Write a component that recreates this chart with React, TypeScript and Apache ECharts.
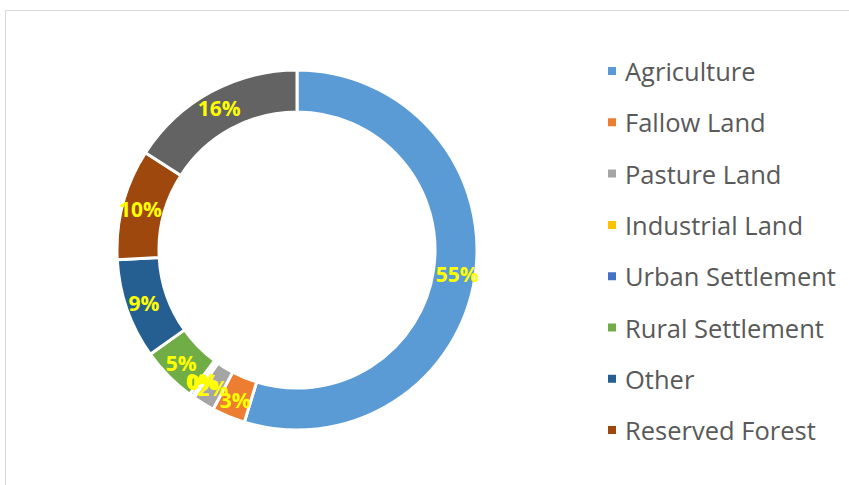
import React, { useEffect, useRef } from "react";
import * as echarts from "echarts";

const categories = [
  "Agriculture",
  "Fallow Land",
  "Pasture Land",
  "Industrial Land",
  "Urban Settlement",
  "Rural Settlement",
  "Other",
  "Reserved Forest",
  "Water Bodies",
];
const values = [55, 3, 2, 0.2, 0.3, 5, 9, 10, 16];
const colors = [
  "#5B9BD5",
  "#ED7D31",
  "#A5A5A5",
  "#FFC000",
  "#4472C4",
  "#70AD47",
  "#255E91",
  "#9E480E",
  "#636363",
];
const legendItems = categories.slice(0, 8);

export default function App() {
  const ref = useRef<HTMLDivElement>(null);
  useEffect(() => {
    if (!ref.current) return;
    const chart = echarts.init(ref.current, null, { renderer: "svg" });
    chart.setOption({
      animation: false,
      backgroundColor: "#ffffff",
      graphic: [
        {
          type: "rect",
          shape: { x: 5.5, y: 10.5, width: 900, height: 600 },
          style: { fill: "none", stroke: "#d9d9d9", lineWidth: 1 },
          silent: true,
        },
      ],
      legend: {
        orient: "vertical",
        left: 601,
        top: 53,
        data: legendItems,
        icon: "rect",
        itemWidth: 10,
        itemHeight: 10,
        itemGap: 25.3,
        textStyle: {
          fontFamily: "Open Sans, sans-serif",
          fontSize: 25.5,
          lineHeight: 26,
          color: "#595959",
          padding: [0, 0, 0, 3],
        },
      },
      series: [
        {
          type: "pie",
          center: [297, 250],
          radius: [138, 180],
          startAngle: 90,
          clockwise: true,
          avoidLabelOverlap: false,
          labelLayout: { hideOverlap: false },
          itemStyle: { borderColor: "#ffffff", borderWidth: 3 },
          label: {
            show: true,
            position: "inside",
            formatter: (p: any) => Math.round(p.percent) + "%",
            color: "#FFFF00",
            fontWeight: "bold",
            fontSize: 21,
            fontFamily: "Open Sans, sans-serif",
          },
          labelLine: { show: false },
          emphasis: { disabled: true },
          data: categories.map((name, i) => ({
            name,
            value: values[i],
            itemStyle: { color: colors[i] },
          })),
        },
      ],
    });
    return () => chart.dispose();
  }, []);
  return (
    <div
      ref={ref}
      style={{ position: "fixed", left: 0, top: 0, width: 849, height: 485 }}
    />
  );
}
